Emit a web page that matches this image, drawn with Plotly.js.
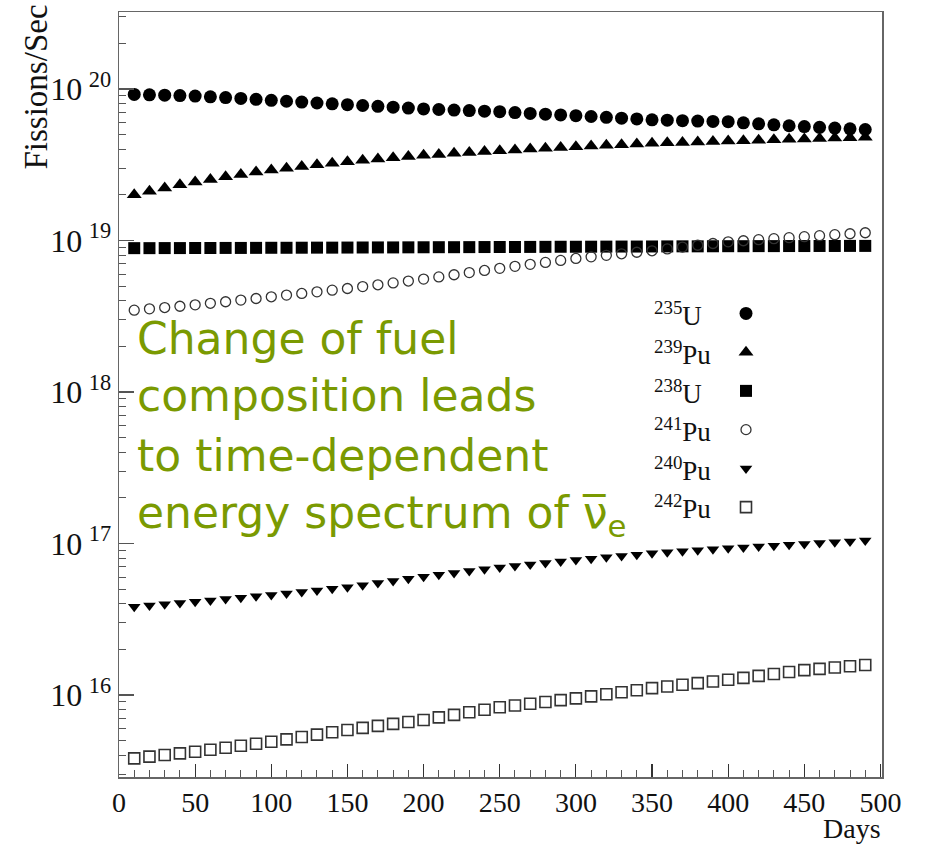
<!DOCTYPE html>
<html>
<head>
<meta charset="utf-8">
<script src="https://cdn.plot.ly/plotly-3.0.1.min.js"></script>
<style>html,body{margin:0;padding:0;background:#fff;}#chart{width:926px;height:847px;}</style>
</head>
<body>
<div id="chart"></div>
<script>
// ---- data ----
const days = [10,20,30,40,50,60,70,80,90,100,110,120,130,140,150,160,170,180,190,200,210,220,230,240,250,260,270,280,290,300,310,320,330,340,350,360,370,380,390,400,410,420,430,440,450,460,470,480,490];

const u235 = [9.20e19,9.15e19,9.10e19,9.05e19,8.98e19,8.88e19,8.78e19,8.66e19,8.54e19,8.42e19,8.30e19,8.19e19,8.08e19,7.98e19,7.88e19,7.78e19,7.68e19,7.58e19,7.48e19,7.38e19,7.32e19,7.26e19,7.20e19,7.14e19,7.08e19,6.99e19,6.90e19,6.82e19,6.74e19,6.66e19,6.58e19,6.50e19,6.42e19,6.34e19,6.26e19,6.22e19,6.18e19,6.14e19,6.11e19,6.08e19,5.98e19,5.89e19,5.80e19,5.72e19,5.65e19,5.58e19,5.52e19,5.46e19,5.40e19];

const pu239 = [2.00e19,2.11e19,2.22e19,2.33e19,2.43e19,2.53e19,2.63e19,2.73e19,2.83e19,2.92e19,3.00e19,3.08e19,3.16e19,3.24e19,3.31e19,3.38e19,3.45e19,3.52e19,3.59e19,3.65e19,3.70e19,3.76e19,3.81e19,3.86e19,3.91e19,3.96e19,4.01e19,4.06e19,4.11e19,4.16e19,4.20e19,4.25e19,4.29e19,4.34e19,4.38e19,4.41e19,4.44e19,4.47e19,4.50e19,4.53e19,4.56e19,4.59e19,4.62e19,4.65e19,4.68e19,4.71e19,4.74e19,4.77e19,4.80e19];

const u238 = [8.90e18,8.90e18,8.91e18,8.91e18,8.92e18,8.92e18,8.93e18,8.93e18,8.94e18,8.95e18,8.95e18,8.96e18,8.97e18,8.97e18,8.98e18,8.99e18,9.00e18,9.00e18,9.01e18,9.02e18,9.03e18,9.03e18,9.04e18,9.05e18,9.06e18,9.06e18,9.07e18,9.08e18,9.09e18,9.09e18,9.10e18,9.11e18,9.12e18,9.12e18,9.13e18,9.14e18,9.15e18,9.15e18,9.16e18,9.17e18,9.17e18,9.18e18,9.18e18,9.19e18,9.19e18,9.20e18,9.20e18,9.21e18,9.21e18];

const pu241 = [3.47e18,3.54e18,3.61e18,3.68e18,3.76e18,3.85e18,3.94e18,4.04e18,4.14e18,4.25e18,4.36e18,4.47e18,4.58e18,4.70e18,4.82e18,4.96e18,5.10e18,5.25e18,5.40e18,5.56e18,5.75e18,5.94e18,6.14e18,6.34e18,6.55e18,6.75e18,6.96e18,7.17e18,7.39e18,7.61e18,7.80e18,7.98e18,8.17e18,8.36e18,8.55e18,8.80e18,9.05e18,9.30e18,9.55e18,9.80e18,9.96e18,1.012e19,1.028e19,1.044e19,1.060e19,1.076e19,1.092e19,1.108e19,1.125e19];

const pu240 = [3.83e16,3.90e16,3.97e16,4.05e16,4.13e16,4.21e16,4.30e16,4.39e16,4.48e16,4.57e16,4.68e16,4.79e16,4.90e16,5.02e16,5.14e16,5.31e16,5.48e16,5.66e16,5.85e16,6.04e16,6.22e16,6.40e16,6.58e16,6.76e16,6.95e16,7.11e16,7.28e16,7.44e16,7.61e16,7.78e16,7.94e16,8.11e16,8.27e16,8.44e16,8.61e16,8.75e16,8.88e16,9.02e16,9.16e16,9.30e16,9.42e16,9.55e16,9.67e16,9.80e16,9.93e16,1.006e17,1.019e17,1.032e17,1.045e17];

const pu242 = [3.82e15,3.92e15,4.02e15,4.12e15,4.22e15,4.35e15,4.49e15,4.63e15,4.77e15,4.92e15,5.10e15,5.29e15,5.48e15,5.68e15,5.88e15,6.07e15,6.26e15,6.45e15,6.64e15,6.84e15,7.12e15,7.40e15,7.69e15,7.99e15,8.30e15,8.53e15,8.76e15,9.00e15,9.25e15,9.50e15,9.80e15,1.011e16,1.043e16,1.076e16,1.110e16,1.139e16,1.169e16,1.199e16,1.229e16,1.260e16,1.298e16,1.337e16,1.377e16,1.418e16,1.460e16,1.489e16,1.519e16,1.549e16,1.580e16];

const seriesLabels = ['<sup>235</sup>U','<sup>239</sup>Pu','<sup>238</sup>U','<sup>241</sup>Pu','<sup>240</sup>Pu','<sup>242</sup>Pu'];
const yTickVals = [1e16,1e17,1e18,1e19,1e20];
const yTickText = ['10\u2009<sup>16</sup>','10\u2009<sup>17</sup>','10\u2009<sup>18</sup>','10\u2009<sup>19</sup>','10\u2009<sup>20</sup>'];
const xTickVals = [0,50,100,150,200,250,300,350,400,450,500];
const noteLines = ['Change of fuel','composition leads','to time-dependent','energy spectrum of \u03BD\u0305<sub>e</sub>'];

// ---- layout helpers (pixel -> paper) ----
const W = 926, H = 847, ML = 119, MR = 44, MT = 12, MB = 70;
const PW = W - ML - MR, PH = H - MT - MB;
const P = px => (px - ML) / PW;
const Q = py => (H - MB - py) / PH;

const styles = [
  {symbol:'circle', size:13, color:'#000', line:{width:0}},
  {symbol:'triangle-up', size:13, color:'#000', line:{width:0}},
  {symbol:'square', size:12, color:'#000', line:{width:0}},
  {symbol:'circle-open', size:10, color:'#333', line:{width:1.3, color:'#333'}},
  {symbol:'triangle-down', size:11, color:'#000', line:{width:0}},
  {symbol:'square-open', size:11, color:'#333', line:{width:1.6, color:'#333'}}
];
const ys = [u235, pu239, u238, pu241, pu240, pu242];
const hoverNames = ['235U','239Pu','238U','241Pu','240Pu','242Pu'];

const traces = ys.map((y, i) => ({
  type:'scatter', mode:'markers', x: days, y: y,
  name: ' ', hovertemplate: hoverNames[i] + ': %{y:.3e}<extra></extra>',
  marker: styles[i], showlegend: true
}));

const minorY = [];
for (let e = 15; e <= 20; e++) for (let m = 2; m <= 9; m++) minorY.push(m * Math.pow(10, e));

const serif = 'Liberation Serif, Times New Roman, serif';
const green = '#7a9a01';

const annotations = [];
// legend labels
const legY = [313, 352, 391, 429, 468, 506];
seriesLabels.forEach((t, i) => annotations.push({
  xref:'paper', yref:'paper', x:P(652), y:Q(legY[i]+1), xanchor:'left', yanchor:'middle',
  text:t, showarrow:false, font:{family:serif, size:27, color:'#111'}
}));
// axis titles
annotations.push({xref:'paper', yref:'paper', x:P(35), y:Q(3), xanchor:'center', yanchor:'top',
  textangle:-90, text:'Fissions/Sec', showarrow:false, font:{family:serif, size:33, color:'#111'}});
annotations.push({xref:'paper', yref:'paper', x:P(883), y:Q(846), xanchor:'right', yanchor:'bottom',
  text:'Days', showarrow:false, font:{family:serif, size:28, color:'#111'}});
// green note
const noteTop = [311, 368, 428, 485];
noteLines.forEach((t, i) => annotations.push({
  xref:'paper', yref:'paper', x:P(135), y:Q(noteTop[i]), xanchor:'left', yanchor:'top',
  text:t, showarrow:false, font:{family:'DejaVu Sans, sans-serif', size:44, color:green}
}));

const layout = {
  width: W, height: H,
  margin: {l:ML, r:MR, t:MT, b:MB, pad:0},
  paper_bgcolor:'#fff', plot_bgcolor:'#fff',
  showlegend: true,
  legend: {x:P(726), y:Q(289), xanchor:'left', yanchor:'top', bgcolor:'rgba(0,0,0,0)',
           font:{family:serif, size:27.5}, itemsizing:'trace', tracegroupgap:0, borderwidth:0},
  xaxis: {
    range:[0, 501], showgrid:false, zeroline:false,
    showline:true, linecolor:'#666', linewidth:1.5, mirror:true,
    tickmode:'array', tickvals:xTickVals,
    ticks:'inside', ticklen:13, tickwidth:1.2, tickcolor:'#333',
    minor:{dtick:10, tick0:0, ticks:'inside', ticklen:7, tickwidth:1, tickcolor:'#555', showgrid:false},
    tickfont:{family:serif, size:28, color:'#111'}
  },
  yaxis: {
    type:'log', range:[15.459, 20.508], showgrid:false, zeroline:false,
    showline:true, linecolor:'#666', linewidth:1.5, mirror:true,
    tickmode:'array', tickvals:yTickVals, ticktext:yTickText,
    ticks:'inside', ticklen:15, tickwidth:1.2, tickcolor:'#555',
    minor:{tickmode:'array', tickvals:minorY, ticks:'inside', ticklen:7, tickwidth:1, tickcolor:'#555', showgrid:false},
    tickfont:{family:serif, size:32, color:'#111'}
  },
  annotations: annotations
};

Plotly.newPlot('chart', traces, layout, {displayModeBar:false, staticPlot:true});
</script>
</body>
</html>
